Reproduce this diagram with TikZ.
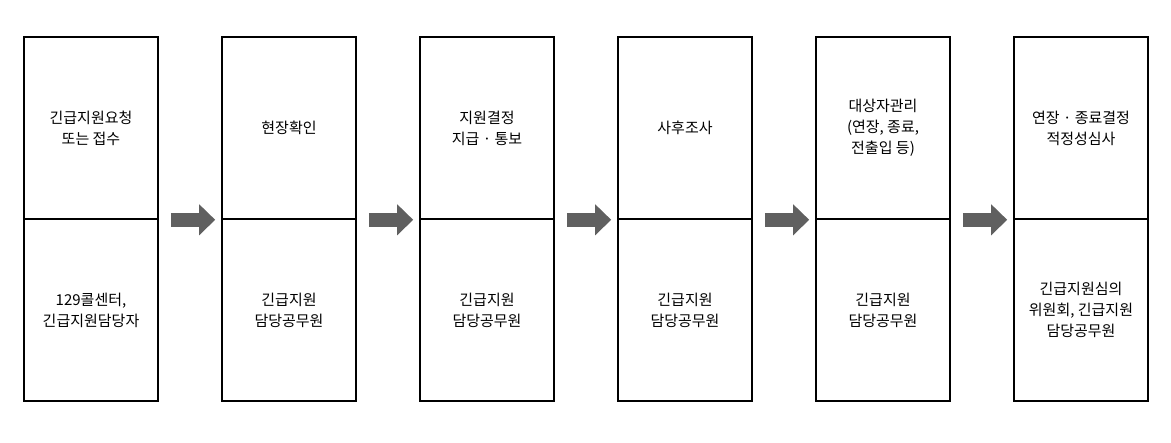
\documentclass[tikz,border=0pt]{standalone}
\usepackage{fontspec}
\setmainfont{Noto Sans CJK KR}
\usetikzlibrary{arrows.meta}
\definecolor{arrowgray}{HTML}{606060}
\tikzset{
  half/.style={draw, line width=1.6pt, minimum width=134pt, minimum height=182pt, align=center, font=\fontsize{15}{21}\selectfont, inner sep=0pt},
  flow/.style={draw=arrowgray, line width=14pt, -{Triangle[length=16pt,width=30pt]}}
}
\begin{document}
\begin{tikzpicture}[x=1pt,y=-1pt]
\useasboundingbox (0,0) rectangle (1171,443);
\node[half] (t1) at (91,128) {긴급지원요청\\또는 접수};
\node[half] (b1) at (91,310) {129콜센터,\\긴급지원담당자};
\node[half] (t2) at (289,128) {현장확인};
\node[half] (b2) at (289,310) {긴급지원\\담당공무원};
\node[half] (t3) at (487,128) {지원결정\\지급 · 통보};
\node[half] (b3) at (487,310) {긴급지원\\담당공무원};
\node[half] (t4) at (685,128) {사후조사};
\node[half] (b4) at (685,310) {긴급지원\\담당공무원};
\node[half] (t5) at (883,128) {대상자관리\\(연장, 종료,\\전출입 등)};
\node[half] (b5) at (883,310) {긴급지원\\담당공무원};
\node[half] (t6) at (1081,128) {연장 · 종료결정\\적정성심사};
\node[half] (b6) at (1081,310) {긴급지원심의\\위원회, 긴급지원\\담당공무원};
\foreach \a/\b in {1/2,2/3,3/4,4/5,5/6}
  \draw[flow] ([xshift=12pt]t\a.south east) -- ([xshift=-6pt]t\b.south west);
\end{tikzpicture}
\end{document}
